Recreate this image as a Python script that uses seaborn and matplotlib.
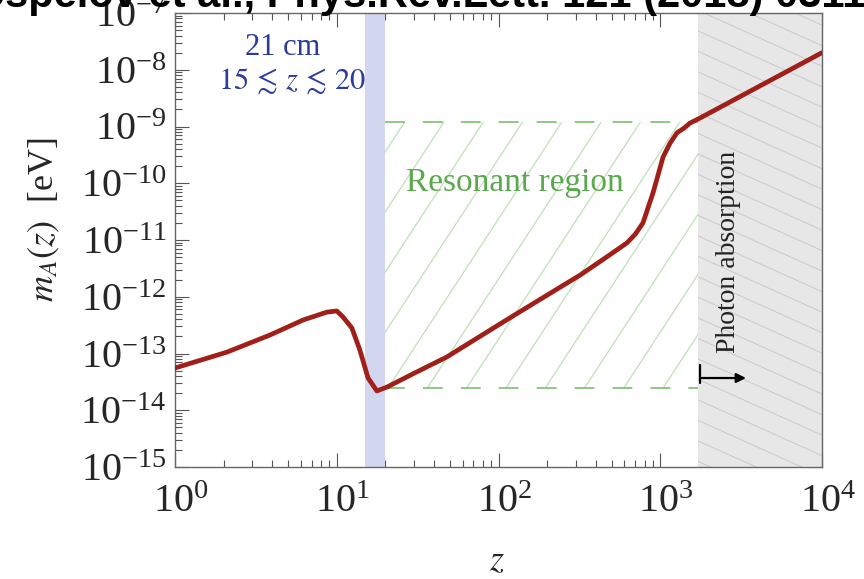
import numpy as np
import pandas as pd
import matplotlib
matplotlib.use("Agg")
import matplotlib.pyplot as plt
import seaborn as sns
from matplotlib.collections import LineCollection
from matplotlib.patches import Rectangle
from matplotlib.ticker import LogLocator, NullFormatter
from matplotlib.transforms import Affine2D, ScaledTranslation

# Dark-photon mass m_A(z) [eV] tracking the plasma frequency versus redshift z
redshift = [1, 2.1, 3.87, 6.19, 8.71, 10.0, 10.93, 12.4, 13.9, 15.6, 17.7, 20.5,
            30, 48, 70, 118, 200, 319, 450, 623, 700, 782, 902, 970, 1040, 1150,
            1270, 1400, 1528, 1762, 10000]
mass_eV = [5.55e-14, 1.06e-13, 2.12e-13, 3.89e-13, 5.37e-13, 5.62e-13, 4.40e-13,
           2.82e-13, 1.15e-13, 3.72e-14, 2.19e-14, 2.57e-14,
           4.47e-14, 8.71e-14, 1.70e-13, 4.27e-13, 1.07e-12, 2.40e-12, 4.68e-12,
           8.91e-12, 1.26e-11, 2.0e-11, 6.76e-11, 1.41e-10, 2.88e-10, 5.1e-10,
           7.76e-10, 9.3e-10, 1.15e-9, 1.41e-9, 2.0e-8]

# Regions
cm21_z = (15, 20)                 # 21 cm absorption window
resonant_z = (20, 1700)           # resonant conversion window in z
resonant_m = (2.45e-14, 1.2e-9)   # resonant conversion window in mass
absorption_z = (1700, 1e4)        # photon absorption (pre-recombination)

x_limits = (1, 1e4)
y_limits = (1e-15, 1e-7)

df = pd.DataFrame({"z": redshift, "m": mass_eV})

sns.set_theme(style="ticks")
plt.rcParams["font.family"] = ["Liberation Serif", "DejaVu Serif"]
plt.rcParams["mathtext.fontset"] = "stix"

W_PX, H_PX = 864, 579
fig = plt.figure(figsize=(W_PX / 100, H_PX / 100), dpi=100)
ax_left, ax_bottom, ax_w, ax_h = 175, 467, 647, 454
ax = fig.add_axes([ax_left / W_PX, 1 - ax_bottom / H_PX, ax_w / W_PX, ax_h / H_PX])
ax.set_xscale("log")
ax.set_yscale("log")
ax.set_xlim(*x_limits)
ax.set_ylim(*y_limits)

# pixel-offset frame anchored at the axes origin (for hatching lines)
px = Affine2D().scale(1 / ax_w, 1 / ax_h) + ax.transAxes

# 21 cm band
ax.axvspan(*cm21_z, facecolor="#d3d6ef", lw=0, zorder=1)

# photon absorption region with light diagonal hatching
gray = ax.axvspan(*absorption_z, facecolor="#e7e7e7", lw=0, zorder=1)
segs = []
for d in np.arange(-5, ax_h + 0.45 * ax_w + 30, 20.5):
    segs.append([(0, d), (ax_w, d - 0.45 * ax_w)])
lc = LineCollection(segs, colors="#c9c9c9", linewidths=0.7, transform=px, zorder=1.5)
ax.add_collection(lc)
lc.set_clip_path(gray)

# resonant region: green hatching with dashed bounds
res_patch = Rectangle((resonant_z[0], resonant_m[0]), resonant_z[1] - resonant_z[0],
                      resonant_m[1] - resonant_m[0], facecolor="none", edgecolor="none")
ax.add_patch(res_patch)
slope = 1.53
c0 = 213 - 79 / slope
segs = []
for k in range(-25, 30):
    c = c0 + k * 39.3
    segs.append([(c, 0), (c + ax_h / slope, ax_h)])
glc = LineCollection(segs, colors="#bfe0b8", linewidths=0.9, transform=px, zorder=2)
ax.add_collection(glc)
glc.set_clip_path(res_patch)
ax.hlines(list(resonant_m), resonant_z[0], resonant_z[1], colors="#86c47a",
          linewidth=1.3, linestyles=(0, (11, 10)), zorder=2)

# the mass curve
sns.lineplot(data=df, x="z", y="m", ax=ax, color="#a11f19", linewidth=3.4,
             sort=False, estimator=None, zorder=5)
for ln in ax.get_lines():
    ln.set_solid_joinstyle("round")
    ln.set_solid_capstyle("round")

# annotations
ax.text(0.167, 0.923, "21 cm", transform=ax.transAxes, ha="center", va="center",
        fontsize=22, color="#2c3b9e")
ax.text(0.181, 0.850, r"$15\,\lesssim\,z\,\lesssim\,20$", transform=ax.transAxes,
        ha="center", va="center", fontsize=22, color="#2c3b9e")
ax.text(0.5247, 0.6256, "Resonant region", transform=ax.transAxes, ha="center",
        va="center", fontsize=24, color="#5aa94c")
ax.text(0.8560, 0.4747, "Photon absorption", transform=ax.transAxes, ha="center",
        va="center", rotation=90, fontsize=20, color="#222222", zorder=6)
ax.plot([0.8114, 0.8114], [0.2247, 0.185], transform=ax.transAxes, color="black",
        lw=1.6, zorder=6)
ax.annotate("", xy=(0.8825, 0.196), xytext=(0.8114, 0.196), xycoords="axes fraction",
            arrowprops=dict(arrowstyle="-|>", color="black", lw=1.6,
                            mutation_scale=14, shrinkA=0, shrinkB=0), zorder=6)

# axes styling
ax.yaxis.set_major_locator(LogLocator(base=10, numticks=20))
ax.yaxis.set_minor_locator(LogLocator(base=10, subs=np.arange(2, 10), numticks=100))
ax.xaxis.set_major_locator(LogLocator(base=10, numticks=20))
ax.xaxis.set_minor_locator(LogLocator(base=10, subs=np.arange(2, 10), numticks=100))
ax.xaxis.set_minor_formatter(NullFormatter())
ax.yaxis.set_minor_formatter(NullFormatter())
ax.tick_params(which="both", direction="in", top=True, right=True, color="#555555",
               width=0.8)
ax.tick_params(which="major", length=10, labelsize=29)
ax.tick_params(axis="y", which="major", pad=6)
ax.tick_params(axis="x", which="major", pad=12)
ax.tick_params(which="minor", length=5)
for sp in ax.spines.values():
    sp.set_color("#666666")
    sp.set_linewidth(1.0)
shift = ScaledTranslation(6 / 100, 0, fig.dpi_scale_trans)
for lbl in ax.get_xticklabels():
    lbl.set_transform(lbl.get_transform() + shift)

ax.set_xlabel(r"$z$", fontsize=26)
ax.set_ylabel(r"$m_A(z)$  [eV]", fontsize=26)
ax.xaxis.set_label_coords(0.498, -0.172)
ax.yaxis.set_label_coords(-0.175, 0.544)

# source line across the top edge
fig.text(0.5, 1 - 16 / H_PX, "Pospelov et al., Phys.Rev.Lett. 121 (2018) 031103",
         ha="center", va="bottom", fontsize=30, fontweight="bold",
         family="Liberation Sans", color="black")

fig.savefig("out.png", dpi=100)
